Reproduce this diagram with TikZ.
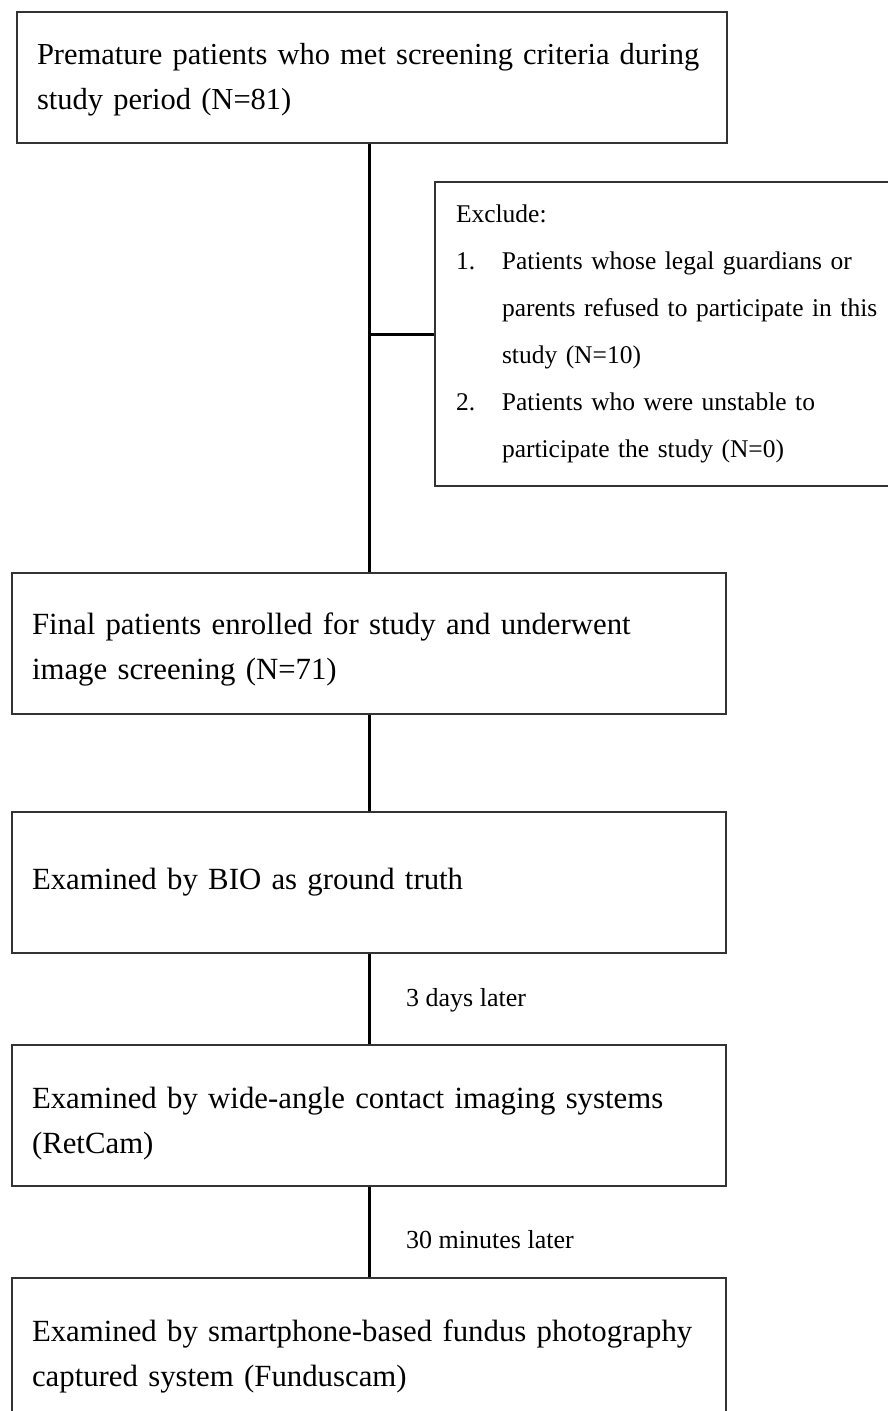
\documentclass[tikz,border=0pt]{standalone}
\usepackage{fontspec}
\setmainfont{Liberation Serif}
\usetikzlibrary{positioning}
\tikzset{>=stealth,
  box/.style={draw=black!80, line width=2pt, align=left, text width=674pt,
    inner xsep=20pt, minimum height=141pt, font=\fontsize{30.8}{45}\selectfont},
  exclbox/.style={draw=black!80, line width=2pt, align=left, text width=440pt,
    inner xsep=21pt, minimum height=304pt, anchor=north west,
    font=\fontsize{25.5}{47}\selectfont},
  link/.style={line width=3pt},
  note/.style={anchor=west, inner sep=0pt, font=\fontsize{26}{30}\selectfont}}

\begin{document}
\begin{tikzpicture}[x=1pt,y=-1pt]
    \useasboundingbox[fill=white] (0,0) rectangle (887,1411);

    \node (prem) [box, text width=670pt, minimum height=131pt,
      font=\fontsize{30.5}{45}\selectfont, text height=26pt] at (372,77.5)
      {Premature patients who met screening criteria during\\study period (N=81)};
    \node (excl) [exclbox] at (434,181)
      {Exclude:\\
       \makebox[46pt][l]{1.}Patients whose legal guardians or\\
       \hspace*{46pt}parents refused to participate in this\\
       \hspace*{46pt}study (N=10)\\
       \makebox[46pt][l]{2.}Patients who were unstable to\\
       \hspace*{46pt}participate the study (N=0)};
    \node (final) [box, text height=33pt] at (369,643.5)
      {Final patients enrolled for study and underwent\\image screening (N=71)};
    \node (bio) [box] at (369,882.5) {Examined by BIO as ground truth};
    \node (retcam) [box, text height=38pt] at (369,1115.5)
      {Examined by wide-angle contact imaging systems\\(RetCam)};
    \node (fundus) [box, text height=38pt] at (369,1348.5)
      {Examined by smartphone-based fundus photography\\captured system (Funduscam)};

    \node (days) [note] at (406,1000) {3 days later};
    \node (mins) [note] at (406,1240) {30 minutes later};

    \draw[link] (final.north |- prem.south) -- (final.north);
    \draw[link] (excl.west -| final.north) -- (excl.west);
    \draw[link] (final) -- (bio);
    \draw[link] (bio) -- (retcam);
    \draw[link] (retcam) -- (fundus);
\end{tikzpicture}
\end{document}
